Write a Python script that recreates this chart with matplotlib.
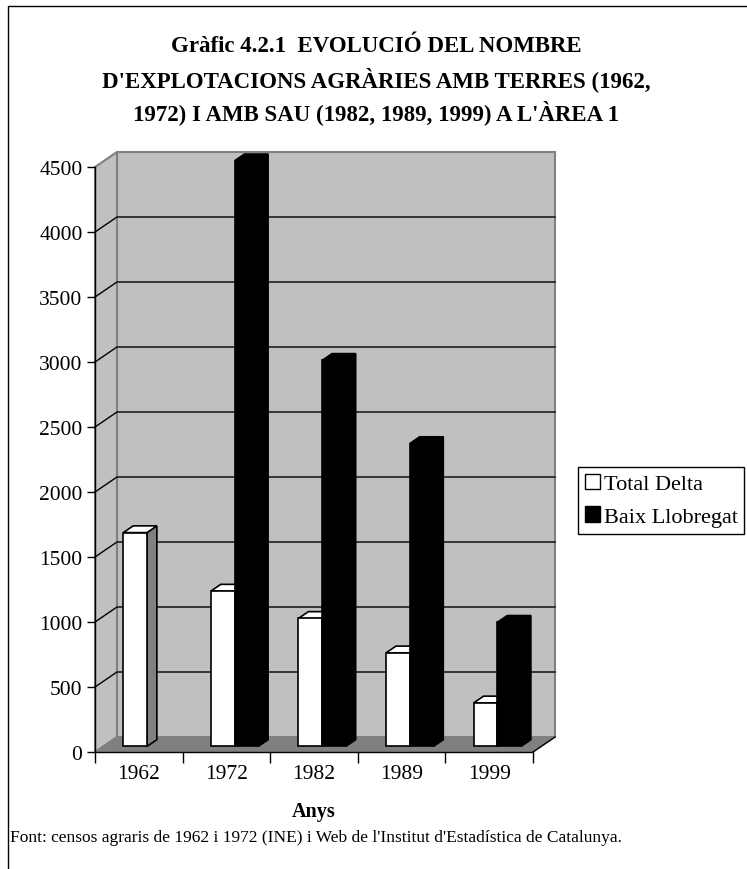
import matplotlib
matplotlib.use('Agg')
import matplotlib.pyplot as plt
import numpy as np
from matplotlib.patches import Polygon, Rectangle, Patch
from matplotlib.transforms import IdentityTransform, ScaledTranslation

# data
years = ['1962', '1972', '1982', '1989', '1999']
total_delta = [1645, 1195, 985, 720, 335]
baix_llobregat = [np.nan, 4505, 2970, 2330, 955]
y_ticks = list(range(0, 5000, 500))
series_names = ['Total Delta', 'Baix Llobregat']

plt.rcParams['font.family'] = ['Liberation Serif', 'DejaVu Serif']

W, H = 747, 870
fig = plt.figure(figsize=(W / 100, H / 100), dpi=100)
ax = fig.add_axes([95 / W, 1 - 753 / H, 438 / W, 585 / H])
ax.set_xlim(-0.5, len(years) - 0.5)
ax.set_ylim(0, y_ticks[-1])
ax.patch.set_visible(False)

DX, DY = 22, 15          # depth of the box, in pixels
F0, F1 = 0.37, 0.82      # front / back depth of the bars
BW = 0.27                # bar width in category units
x_lo, x_hi = -0.5, len(years) - 0.5
y_top = y_ticks[-1]


def proj(x, y, f):
    px, py = ax.transData.transform((x, y))
    return (px + f * DX, py + f * DY)


def poly(pts, z, **kw):
    ax.add_patch(Polygon(pts, closed=True, transform=IdentityTransform(),
                         clip_on=False, zorder=z, **kw))


def line(pts, z, **kw):
    xs, ys = zip(*pts)
    ax.plot(xs, ys, transform=IdentityTransform(), clip_on=False, zorder=z, **kw)


# walls and floor
wall = dict(fc='#C0C0C0', ec='#808080', lw=1.5)
poly([proj(x_lo, 0, 1), proj(x_hi, 0, 1), proj(x_hi, y_top, 1), proj(x_lo, y_top, 1)], 0, **wall)
poly([proj(x_lo, 0, 0), proj(x_lo, 0, 1), proj(x_lo, y_top, 1), proj(x_lo, y_top, 0)], 0, **wall)
poly([proj(x_lo, 0, 0), proj(x_hi, 0, 0), proj(x_hi, 0, 1), proj(x_lo, 0, 1)], 1,
     fc='#808080', ec='#808080', lw=1)
line([proj(x_hi, 0, 0), proj(x_hi, 0, 1)], 2, color='black', lw=1)

# gridlines on the walls
for v in y_ticks[1:-1]:
    line([proj(x_lo, v, 0), proj(x_lo, v, 1), proj(x_hi, v, 1)], 1, color='black', lw=1)

# bars
front_shift = ax.transData + ScaledTranslation(F0 * DX / 100, F0 * DY / 100, fig.dpi_scale_trans)
z = 3
for i in range(len(years)):
    for x0, h, fc, side in [(i - BW, total_delta[i], 'white', '#808080'),
                            (i, baix_llobregat[i], 'black', 'black')]:
        if np.isnan(h):
            continue
        x1 = x0 + BW
        poly([proj(x1, 0, F0), proj(x1, 0, F1), proj(x1, h, F1), proj(x1, h, F0)], z,
             fc=side, ec='black', lw=1.2, joinstyle='miter')
        poly([proj(x0, h, F0), proj(x1, h, F0), proj(x1, h, F1), proj(x0, h, F1)], z,
             fc=fc, ec='black', lw=1.2, joinstyle='miter')
        ax.bar(x0, h, width=BW, align='edge', color=fc, edgecolor='black', linewidth=1.2,
               transform=front_shift, zorder=z + 0.5, clip_on=False)
        z += 1

# axes
for s in ['top', 'right']:
    ax.spines[s].set_visible(False)
for s in ['left', 'bottom']:
    ax.spines[s].set_color('black')
    ax.spines[s].set_linewidth(1)
    ax.spines[s].set_zorder(50)
ax.set_yticks(y_ticks)
ax.tick_params(axis='y', length=6, width=1, pad=3, labelsize=15.5)
ax.set_xticks(range(len(years)), years)
ax.set_xticks(np.arange(x_lo, x_hi + 0.01, 1), minor=True)
ax.tick_params(axis='x', which='major', length=0, pad=9, labelsize=15.5)
ax.tick_params(axis='x', which='minor', length=8, width=1)

# titles and notes
title_lines = ["Gràfic 4.2.1  EVOLUCIÓ DEL NOMBRE",
               "D'EXPLOTACIONS AGRÀRIES AMB TERRES (1962,",
               "1972) I AMB SAU (1982, 1989, 1999) A L'ÀREA 1"]
for t, yy in zip(title_lines, [46, 80, 113]):
    fig.text(376 / W, 1 - yy / H, t, ha='center', va='center', fontsize=16.5, fontweight='bold')

fig.text(314 / W, 1 - 812 / H, 'Anys', ha='center', va='center', fontsize=14.5, fontweight='bold')
fig.text(10 / W, 1 - 838 / H,
         "Font: censos agraris de 1962 i 1972 (INE) i Web de l'Institut d'Estadística de Catalunya.",
         ha='left', va='center', fontsize=12.5)

leg = fig.legend(handles=[Patch(fc='white', ec='black'), Patch(fc='black', ec='black')],
                 labels=series_names, loc='upper left',
                 bbox_to_anchor=(578 / W, 1 - 468 / H), fancybox=False, edgecolor='black',
                 framealpha=1, borderaxespad=0, handlelength=0.7, handleheight=0.7,
                 handletextpad=0.15, labelspacing=0.55, fontsize=16, borderpad=0.3)
leg.get_frame().set_linewidth(1)

fig.add_artist(Rectangle((8 / W, -0.05), 1.2, 1.05 - 7 / H, transform=fig.transFigure,
                         fill=False, ec='black', lw=1))

fig.savefig('out.png', dpi=100)
